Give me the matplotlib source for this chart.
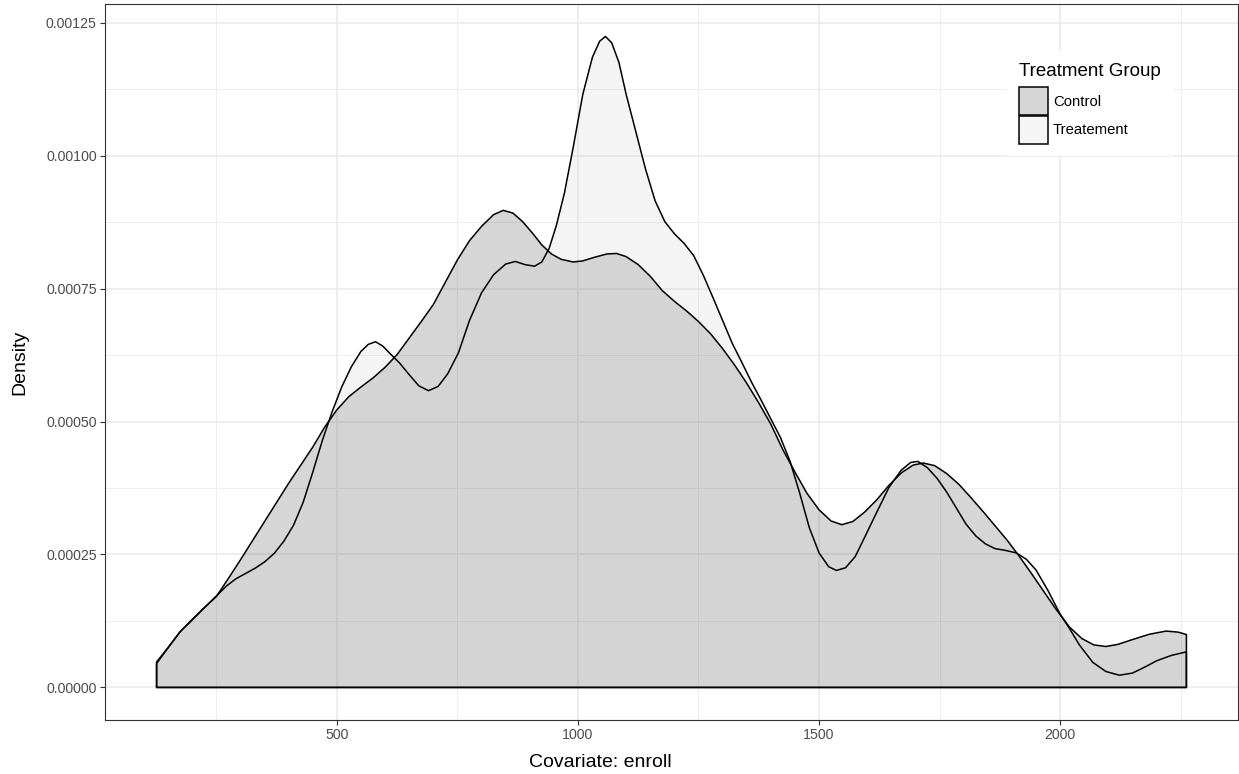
import numpy as np
import matplotlib.pyplot as plt
from matplotlib.patches import Patch
from matplotlib.ticker import MultipleLocator, FuncFormatter

plt.rcParams['font.family'] = ['Liberation Sans', 'DejaVu Sans']

# Estimated kernel density of enrollment, by group
control_x = [126, 150, 175, 200, 225, 250, 275, 300, 325, 350, 375, 400, 425,
             450, 475, 500, 525, 550, 575, 600, 625, 650, 675, 700, 725, 750,
             775, 800, 825, 845, 865, 885, 905, 925, 945, 965, 990, 1010, 1035,
             1060, 1080, 1100, 1125, 1150, 1175, 1200, 1225, 1250, 1275, 1300,
             1325, 1350, 1375, 1400, 1425, 1450, 1475, 1500, 1525, 1547, 1570,
             1595, 1620, 1645, 1670, 1695, 1716, 1740, 1765, 1790, 1815, 1840,
             1865, 1890, 1915, 1940, 1965, 1990, 2019, 2045, 2070, 2095, 2120,
             2150, 2185, 2220, 2245, 2262]
control_d = [0.000048, 0.000075, 0.000105, 0.000128, 0.000150, 0.000171,
             0.000205, 0.000240, 0.000276, 0.000312, 0.000348, 0.000384,
             0.000418, 0.000452, 0.000490, 0.000522, 0.000547, 0.000565,
             0.000582, 0.000602, 0.000626, 0.000657, 0.000688, 0.000720,
             0.000762, 0.000804, 0.000840, 0.000867, 0.000889, 0.000897,
             0.000892, 0.000876, 0.000855, 0.000832, 0.000815, 0.000805,
             0.000800, 0.000802, 0.000809, 0.000815, 0.000816, 0.000810,
             0.000795, 0.000773, 0.000746, 0.000726, 0.000708, 0.000688,
             0.000665, 0.000637, 0.000606, 0.000572, 0.000535, 0.000495,
             0.000447, 0.000405, 0.000365, 0.000334, 0.000313, 0.000306,
             0.000312, 0.000330, 0.000353, 0.000380, 0.000403, 0.000418,
             0.000422, 0.000417, 0.000402, 0.000382, 0.000357, 0.000331,
             0.000304, 0.000277, 0.000247, 0.000215, 0.000182, 0.000149,
             0.000114, 0.000092, 0.000080, 0.000077, 0.000081, 0.000090,
             0.000100, 0.000106, 0.000104, 0.0000995]

treat_x = [126, 150, 175, 200, 225, 249, 270, 290, 310, 330, 350, 370, 390,
           410, 430, 450, 470, 490, 510, 530, 550, 565, 580, 595, 610, 630,
           650, 670, 690, 710, 730, 752, 775, 800, 825, 850, 870, 890, 910,
           925, 940, 955, 972, 990, 1010, 1030, 1045, 1057, 1070, 1085, 1100,
           1120, 1140, 1160, 1180, 1200, 1220, 1240, 1260, 1280, 1300, 1320,
           1340, 1360, 1380, 1400, 1420, 1440, 1460, 1480, 1500, 1520, 1536,
           1555, 1575, 1595, 1620, 1645, 1670, 1690, 1705, 1725, 1745, 1765,
           1785, 1805, 1825, 1845, 1865, 1885, 1909, 1930, 1950, 1975, 2000,
           2018, 2040, 2068, 2095, 2123, 2150, 2175, 2200, 2230, 2262]
treat_d = [0.000045, 0.000075, 0.000105, 0.000127, 0.000150, 0.000171,
           0.000190, 0.000204, 0.000214, 0.000224, 0.000236, 0.000252,
           0.000275, 0.000305, 0.000348, 0.000405, 0.000465, 0.000518,
           0.000565, 0.000603, 0.000632, 0.000645, 0.000650, 0.000642,
           0.000628, 0.000610, 0.000588, 0.000567, 0.000558, 0.000566,
           0.000590, 0.000629, 0.000690, 0.000742, 0.000776, 0.000796,
           0.000801, 0.000795, 0.000792, 0.000800, 0.000825, 0.000868,
           0.000930, 0.001015, 0.001115, 0.001185, 0.001215, 0.001224,
           0.001212, 0.001175, 0.001115, 0.001045, 0.000975, 0.000915,
           0.000876, 0.000853, 0.000835, 0.000812, 0.000775, 0.000733,
           0.000690, 0.000647, 0.000611, 0.000574, 0.000540, 0.000505,
           0.000470, 0.000425, 0.000365, 0.000300, 0.000253, 0.000227,
           0.000220, 0.000225, 0.000246, 0.000283, 0.000330, 0.000376,
           0.000408, 0.000423, 0.000425, 0.000413, 0.000393, 0.000367,
           0.000337, 0.000307, 0.000285, 0.000270, 0.000261, 0.000258,
           0.000253, 0.000241, 0.000221, 0.000182, 0.000138, 0.000113,
           0.000080, 0.000047, 0.000030, 0.000023, 0.000027, 0.000038,
           0.000050, 0.000060, 0.000067]

groups = ['Control', 'Treatement']
fills = ['#333333', '#cccccc']
key_colors = ['#d6d6d6', '#f5f5f5']

fig = plt.figure(figsize=(12.39, 7.74), dpi=100)
ax = fig.add_axes([105 / 1239, 54 / 774, 1133 / 1239, 716 / 774])

for (xs, ds), fc in zip([(control_x, control_d), (treat_x, treat_d)], fills):
    px = [xs[0]] + list(xs) + [xs[-1]]
    py = [0.0] + list(ds) + [0.0]
    ax.fill(px, py, facecolor=fc, alpha=0.2, zorder=2)
    ax.fill(px, py, facecolor='none', edgecolor='black', linewidth=1.1,
            zorder=2.1, joinstyle='round')

# theme_bw look
ax.set_xlim(19, 2369)
ax.set_ylim(-0.0000612, 0.001285)
ax.xaxis.set_major_locator(MultipleLocator(500))
ax.xaxis.set_minor_locator(MultipleLocator(250))
ax.yaxis.set_major_locator(MultipleLocator(0.00025))
ax.yaxis.set_minor_locator(MultipleLocator(0.000125))
ax.yaxis.set_major_formatter(FuncFormatter(lambda v, p: f'{v:.5f}'))
ax.grid(which='major', color='#ebebeb', linewidth=1.2, zorder=0)
ax.grid(which='minor', color='#ebebeb', linewidth=0.6, zorder=0)
ax.set_axisbelow(True)
for s in ax.spines.values():
    s.set_color('#333333')
    s.set_linewidth(0.8)
ax.tick_params(which='major', length=3.5, width=0.8, color='#333333',
               labelcolor='#4d4d4d', labelsize=10.2, pad=2.5)
ax.tick_params(which='minor', length=0)

ax.set_xlabel('Covariate: enroll', fontsize=14, color='black')
ax.xaxis.label.set_va('top')
ax.xaxis.set_label_coords((600 - 105) / 1133, -0.047)
ax.set_ylabel('Density', fontsize=14, color='black')
ax.yaxis.set_label_coords(-0.068, 0.5)

key_handles = [Patch(facecolor=c, edgecolor='black', linewidth=1.1)
               for c in key_colors]
leg = ax.legend(key_handles, groups, title='Treatment Group',
                loc='upper left', bbox_to_anchor=(1000 / 1239, 1 - 44 / 774),
                bbox_transform=fig.transFigure, fontsize=10.7,
                title_fontsize=13.5, alignment='left', frameon=True,
                facecolor='white', edgecolor='none', fancybox=False,
                framealpha=1, handlelength=1.92, handleheight=2.53,
                labelspacing=0.02, handletextpad=0.34, borderpad=0.8)
leg._legend_box.sep = 5
leg.set_zorder(5)

fig.savefig('out.png', dpi=100)
